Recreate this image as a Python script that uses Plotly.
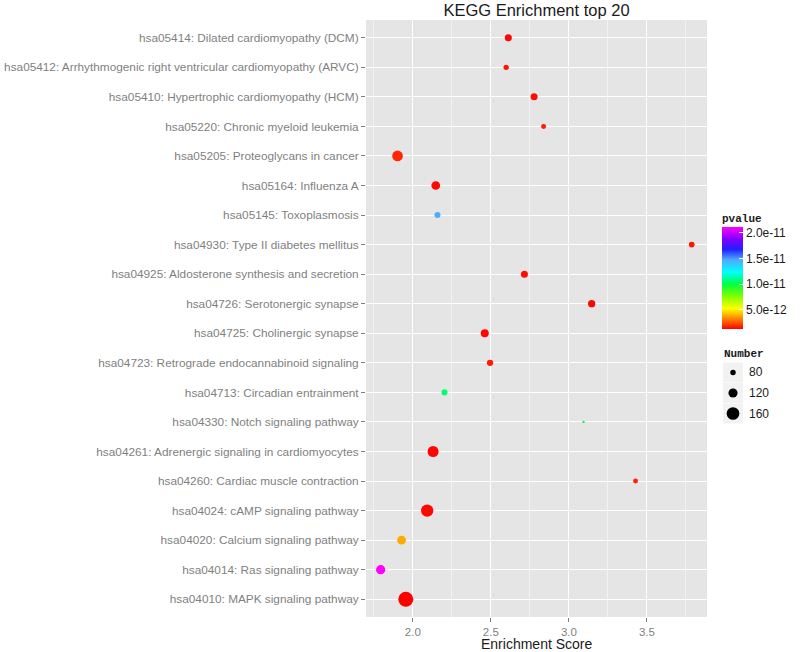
import plotly.graph_objects as go

# ---------------- data (top of chart to bottom) ----------------
pathways = [
    "hsa05414: Dilated cardiomyopathy (DCM)",
    "hsa05412: Arrhythmogenic right ventricular cardiomyopathy (ARVC)",
    "hsa05410: Hypertrophic cardiomyopathy (HCM)",
    "hsa05220: Chronic myeloid leukemia",
    "hsa05205: Proteoglycans in cancer",
    "hsa05164: Influenza A",
    "hsa05145: Toxoplasmosis",
    "hsa04930: Type II diabetes mellitus",
    "hsa04925: Aldosterone synthesis and secretion",
    "hsa04726: Serotonergic synapse",
    "hsa04725: Cholinergic synapse",
    "hsa04723: Retrograde endocannabinoid signaling",
    "hsa04713: Circadian entrainment",
    "hsa04330: Notch signaling pathway",
    "hsa04261: Adrenergic signaling in cardiomyocytes",
    "hsa04260: Cardiac muscle contraction",
    "hsa04024: cAMP signaling pathway",
    "hsa04020: Calcium signaling pathway",
    "hsa04014: Ras signaling pathway",
    "hsa04010: MAPK signaling pathway",
]
enrichment_score = [2.612, 2.598, 2.777, 2.838, 1.902, 2.147, 2.158, 3.787, 2.715, 3.146,
                    2.461, 2.495, 2.203, 3.094, 2.130, 3.427, 2.092, 1.928, 1.794, 1.955]
number = [97, 78, 97, 74, 138, 116, 86, 82, 97, 100,
          108, 89, 86, 45, 141, 74, 156, 116, 122, 185]
pvalue = [1.3e-12, 1.5e-12, 1.4e-12, 1.6e-12, 1.8e-12, 1.3e-12, 1.45e-11, 1.5e-12, 1.4e-12, 1.3e-12,
          1.3e-12, 1.6e-12, 1.05e-11, 1.0e-11, 1.3e-12, 1.7e-12, 1.3e-12, 3.8e-12, 2.1e-11, 1.2e-12]

x_tick_vals = [2.0, 2.5, 3.0, 3.5]
pvalue_tick_vals = [5.0e-12, 1.0e-11, 1.5e-11, 2.0e-11]
pvalue_tick_text = ["5.0e-12", "1.0e-11", "1.5e-11", "2.0e-11"]
size_legend_vals = [80, 120, 160]

# ---------------- styling ----------------
W, H = 800, 652
L, R, T, B = 366, 93, 20, 35
PW, PH = W - L - R, H - T - B
FONT = "Liberation Sans, Arial, sans-serif"
MONO = "Liberation Mono, Courier New, monospace"
GREY = "#7F7F7F"


def diam(n):
    return 5.5 + (n - 80) * 0.09


def px_x(px):
    return (px - L) / PW


def px_y(py):
    return (H - B - py) / PH


colorscale = [
    [0.0, "#FF0000"], [0.08, "#FF6A00"], [0.2, "#FFFF00"], [0.32, "#80FF00"],
    [0.44, "#00FF40"], [0.56, "#00FFFF"], [0.68, "#50A8FF"], [0.78, "#2020FF"],
    [0.88, "#8000FF"], [1.0, "#FF00FF"],
]

fig = go.Figure()
fig.add_trace(go.Scatter(
    x=enrichment_score,
    y=pathways,
    mode="markers",
    marker=dict(
        size=[diam(n) for n in number],
        sizemode="diameter",
        color=pvalue,
        colorscale=colorscale,
        line=dict(width=0),
        opacity=1,
        showscale=True,
        colorbar=dict(
            title=dict(text="pvalue", side="top",
                       font=dict(family=MONO, size=11, color="#1A1A1A", weight="bold")),
            x=px_x(722), xanchor="left", xpad=0,
            y=px_y(329.5), yanchor="bottom", ypad=0,
            thickness=21, len=119, lenmode="pixels",
            outlinewidth=0,
            tickvals=pvalue_tick_vals, ticktext=pvalue_tick_text,
            ticks="inside", ticklen=4, tickcolor="white", tickwidth=1,
            tickfont=dict(family=FONT, size=12, color="#1A1A1A"),
        ),
    ),
    showlegend=False,
    hoverinfo="x+y",
))

# ---------------- size legend (Number) ----------------
shapes = []
annotations = []
annotations.append(dict(
    text="<b>Number</b>", x=px_x(722), y=px_y(354), xref="paper", yref="paper",
    xanchor="left", yanchor="middle", showarrow=False,
    font=dict(family=MONO, size=11, color="#1A1A1A"),
))
key_centers = [372.5, 393, 413.5]
for v, cy in zip(size_legend_vals, key_centers):
    shapes.append(dict(type="rect", xref="paper", yref="paper",
                       x0=px_x(723), x1=px_x(743), y0=px_y(cy + 10), y1=px_y(cy - 10),
                       fillcolor="#F2F2F2", line=dict(width=0), layer="below"))
    d = diam(v)
    shapes.append(dict(type="circle", xref="paper", yref="paper",
                       xsizemode="pixel", ysizemode="pixel",
                       xanchor=px_x(733), yanchor=px_y(cy),
                       x0=-d / 2, x1=d / 2, y0=-d / 2, y1=d / 2,
                       fillcolor="black", line=dict(width=0)))
    annotations.append(dict(
        text=str(v), x=px_x(747), y=px_y(cy), xref="paper", yref="paper",
        xanchor="left", yanchor="middle", showarrow=False,
        font=dict(family=FONT, size=12, color="#1A1A1A"),
    ))

# x-axis title
annotations.append(dict(
    text="Enrichment Score", x=0.5, y=px_y(644), xref="paper", yref="paper",
    xanchor="center", yanchor="middle", showarrow=False,
    font=dict(family=FONT, size=14, color="#1A1A1A"),
))

fig.update_layout(
    width=W, height=H,
    margin=dict(l=L, r=R, t=T, b=B, autoexpand=False),
    paper_bgcolor="white",
    plot_bgcolor="#E5E5E5",
    title=dict(text="KEGG Enrichment top 20", x=0.5, xref="paper",
               y=1 - 10 / H, yref="container", yanchor="middle", xanchor="center",
               font=dict(family=FONT, size=16.5, color="#1A1A1A")),
    xaxis=dict(
        range=[1.70, 3.885],
        tickvals=x_tick_vals, tickformat=".1f",
        ticks="outside", ticklen=4, tickcolor=GREY, tickwidth=1,
        tickfont=dict(family=FONT, size=11.5, color=GREY),
        showgrid=True, gridcolor="white", gridwidth=1.4,
        minor=dict(dtick=0.25, tick0=1.75, showgrid=True, gridcolor="#F2F2F2", gridwidth=0.7),
        zeroline=False, showline=False, automargin=False,
    ),
    yaxis=dict(
        type="category",
        categoryorder="array", categoryarray=pathways,
        range=[len(pathways) - 0.4, -0.6],
        ticks="outside", ticklen=4, tickcolor=GREY, tickwidth=1,
        tickfont=dict(family=FONT, size=11.8, color=GREY),
        showgrid=True, gridcolor="white", gridwidth=1.4,
        zeroline=False, showline=False, automargin=False,
    ),
    shapes=shapes,
    annotations=annotations,
)

fig.write_html(
    "out.html",
    config={"displayModeBar": False},
    post_script="document.body.style.margin='0';document.body.style.overflow='hidden';",
)
